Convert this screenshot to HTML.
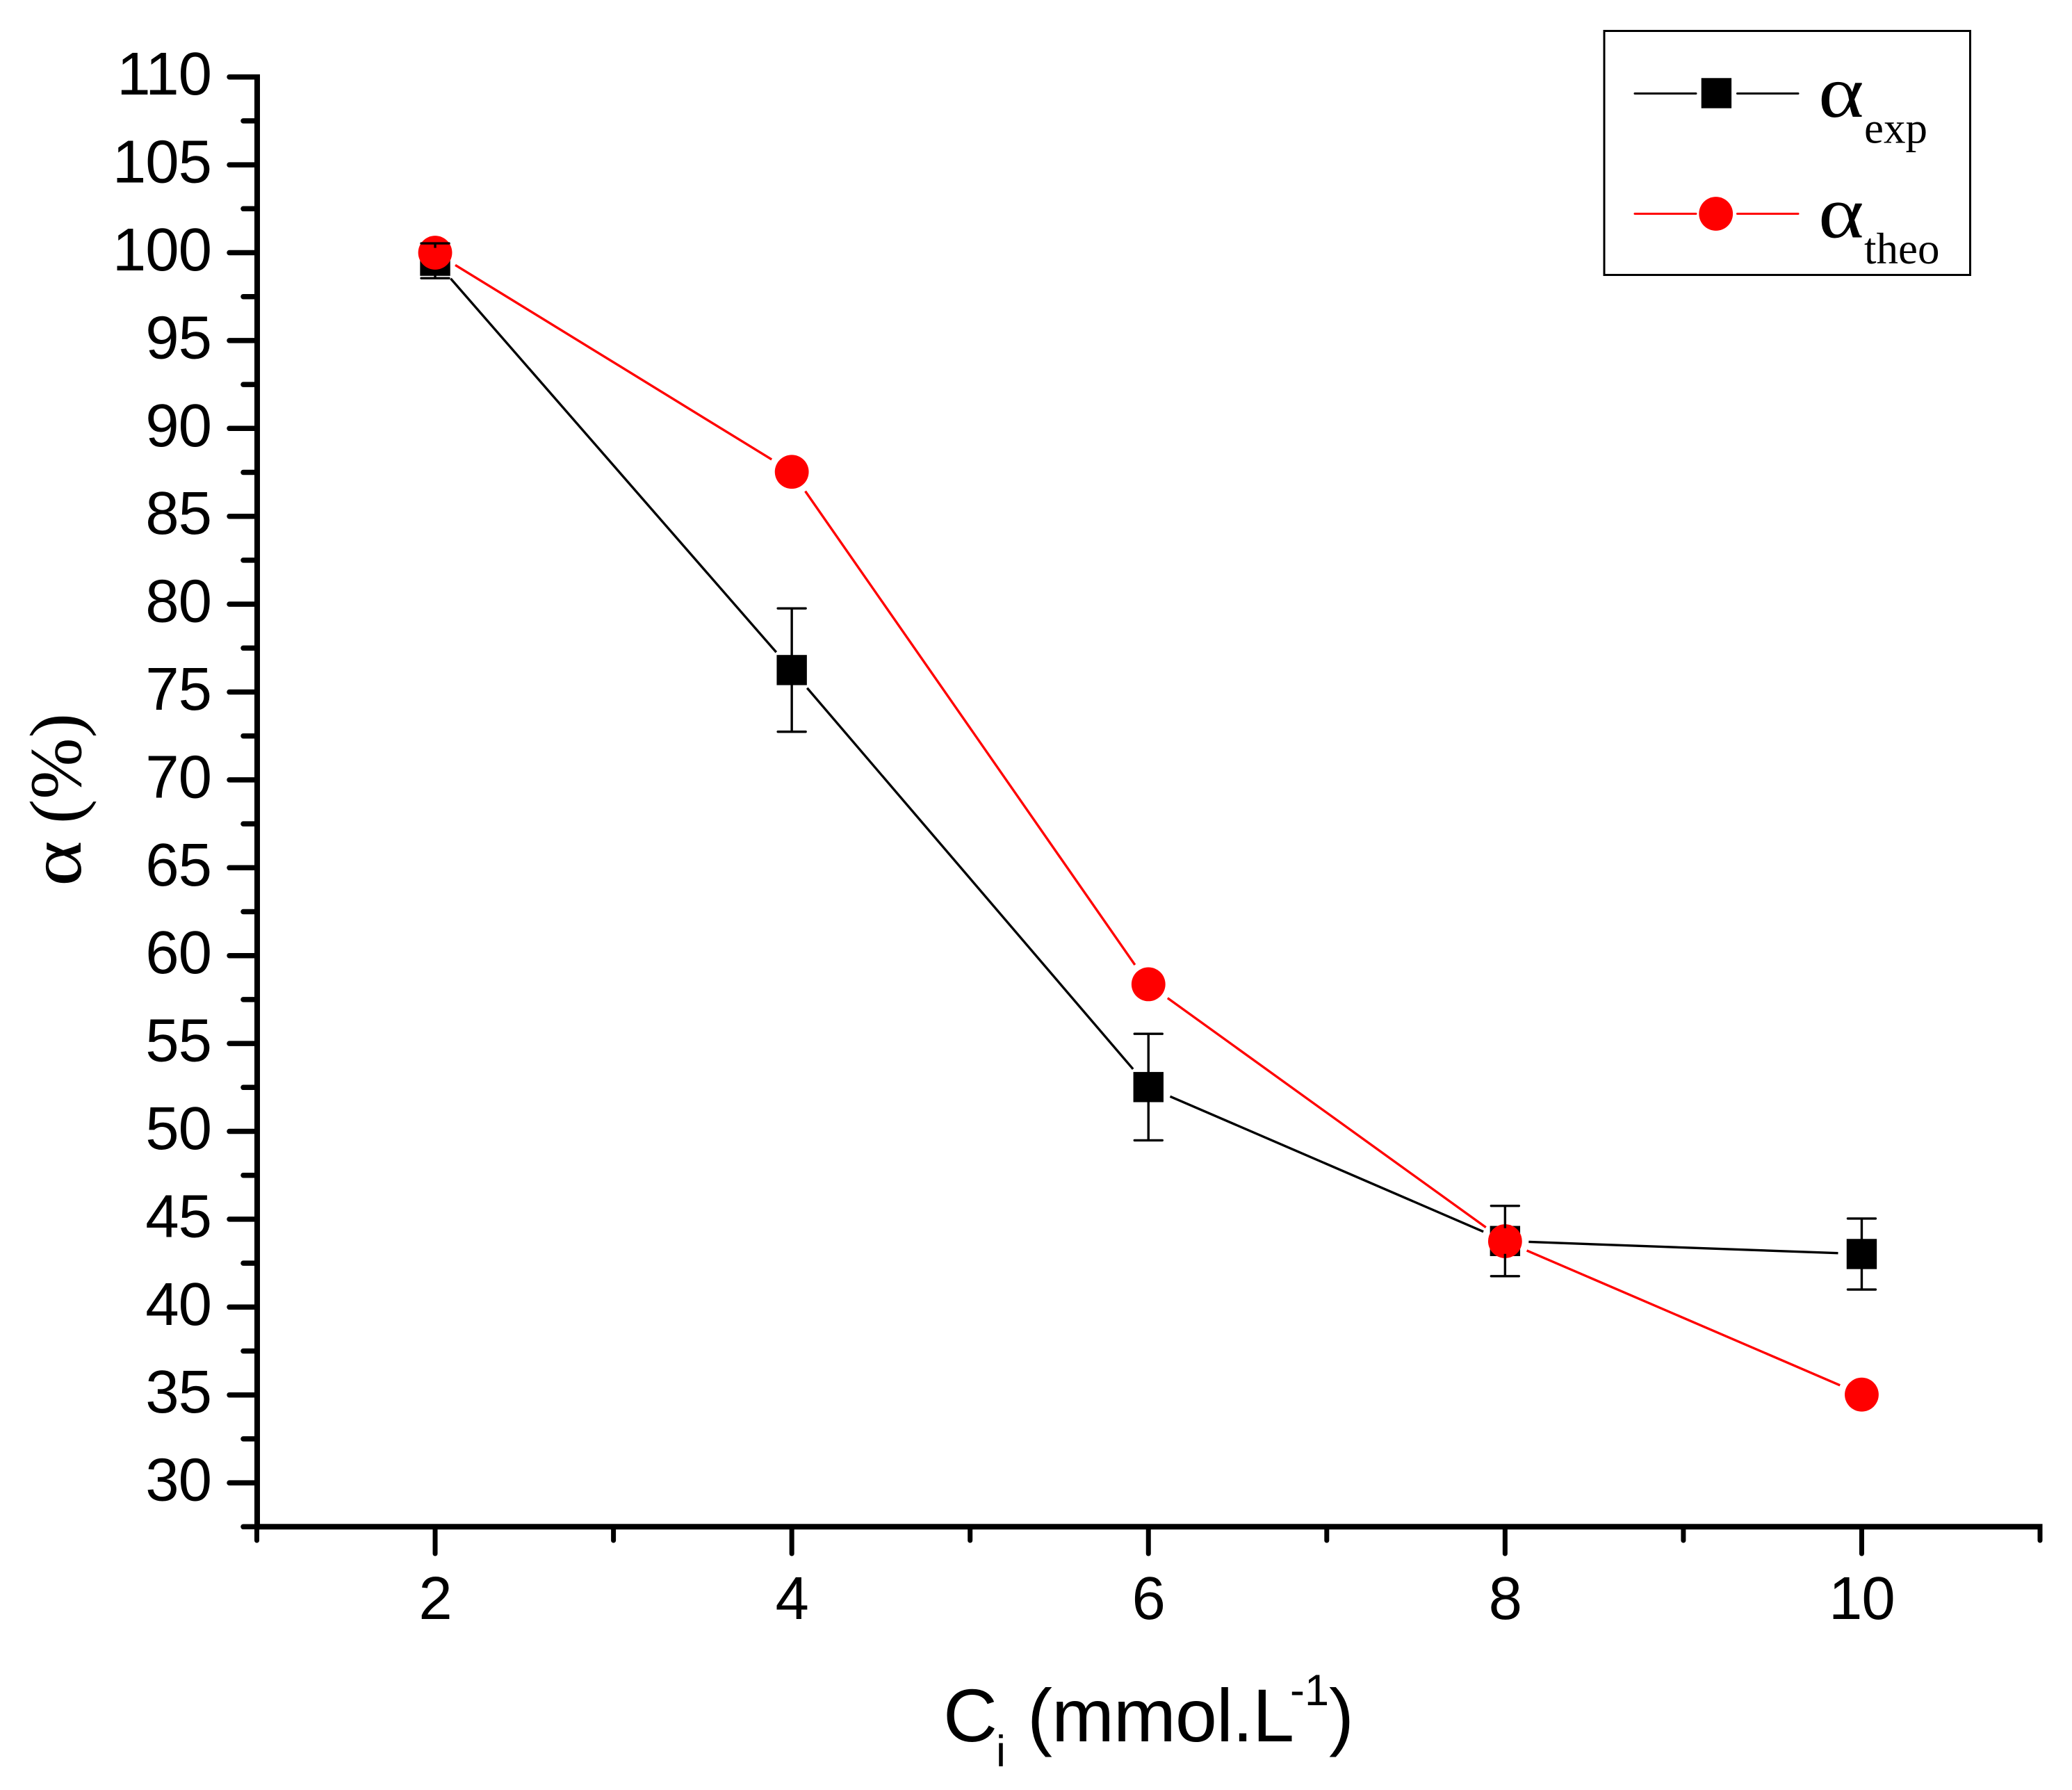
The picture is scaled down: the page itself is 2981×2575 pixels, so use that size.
<!DOCTYPE html>
<html lang="en">
<head>
<meta charset="utf-8">
<title>Alpha versus initial concentration</title>
<style>
html,body{margin:0;padding:0;background:#fff;width:2981px;height:2575px;overflow:hidden}
svg{display:block}
.sans{font-family:"Liberation Sans",Arial,sans-serif;fill:#000}
.serif{font-family:"Liberation Serif","Times New Roman",serif;fill:#000}
</style>
</head>
<body>
<svg id="chart" xmlns="http://www.w3.org/2000/svg" width="2981" height="2575" viewBox="0 0 2981 2575">
  <rect x="0" y="0" width="2981" height="2575" fill="#fff"/>
  <g id="axes"></g>
  <g id="series"></g>

  <g transform="translate(116 1273) rotate(-90)">
    <text class="serif" transform="translate(-2 0) scale(1.18 1)" font-size="106">α</text>
    <text class="serif" x="88" y="0" font-size="106">(%)</text>
  </g>

  <g>
    <text class="sans" x="1357" y="2505" font-size="108">C</text>
    <text class="sans" x="1433" y="2541" font-size="63">i</text>
    <text class="sans" x="1478" y="2505" font-size="108" letter-spacing="-1">(mmol.L</text>
    <text class="sans" x="1856" y="2453" font-size="63">-1</text>
    <text class="sans" x="1912" y="2505" font-size="108">)</text>
  </g>

  <g>
    <rect x="2308" y="44.5" width="526.5" height="351" fill="#fff" stroke="#000" stroke-width="3"/>
    <g>
      <line x1="2352" y1="134.5" x2="2440" y2="134.5" stroke="#000" stroke-width="3" stroke-linecap="round"/>
      <line x1="2499.5" y1="134.5" x2="2587" y2="134.5" stroke="#000" stroke-width="3" stroke-linecap="round"/>
      <rect x="2447.7" y="112.3" width="43.4" height="43.4" fill="#000"/>
      <text class="serif" transform="translate(2616 168) scale(1.18 1)" font-size="106">α</text>
      <text class="serif" x="2682" y="205.5" font-size="63">exp</text>
    </g>
    <g>
      <line x1="2352" y1="307.5" x2="2440" y2="307.5" stroke="#f00" stroke-width="3" stroke-linecap="round"/>
      <line x1="2499.5" y1="307.5" x2="2587" y2="307.5" stroke="#f00" stroke-width="3" stroke-linecap="round"/>
      <circle cx="2468.7" cy="307.5" r="24.4" fill="#f00"/>
      <text class="serif" transform="translate(2616 341.5) scale(1.18 1)" font-size="106">α</text>
      <text class="serif" x="2682" y="379" font-size="63">theo</text>
    </g>
  </g>
</svg>

<script>
const categories = [2, 4, 6, 8, 10];
const expValues = [99.54, 76.25, 52.52, 43.76, 43.02];
const expErrors = [0.99, 3.51, 3.03, 2.0, 2.02];
const theoValues = [100.0, 87.53, 58.37, 43.75, 35.02];
const xTickValues = [1, 2, 3, 4, 5, 6, 7, 8, 9, 10, 11];
const xTickLabels = ["", "2", "", "4", "", "6", "", "8", "", "10", ""];
const yTickValues = [27.5, 30, 32.5, 35, 37.5, 40, 42.5, 45, 47.5, 50, 52.5, 55, 57.5, 60, 62.5, 65, 67.5, 70, 72.5, 75, 77.5, 80, 82.5, 85, 87.5, 90, 92.5, 95, 97.5, 100, 102.5, 105, 107.5, 110];
const yTickLabels = ["", "30", "", "35", "", "40", "", "45", "", "50", "", "55", "", "60", "", "65", "", "70", "", "75", "", "80", "", "85", "", "90", "", "95", "", "100", "", "105", "", "110"];

const SVGNS = "http://www.w3.org/2000/svg";
const xScale = function (v) { return 369.5 + (v - 1) * 256.55; };
const yScale = function (v) { return 110.7 + (110 - v) * 25.28; };
const axesGroup = document.getElementById("axes");
const seriesGroup = document.getElementById("series");

function make(tag, parent, attrs) {
  const el = document.createElementNS(SVGNS, tag);
  Object.keys(attrs).forEach(function (k) { el.setAttribute(k, attrs[k]); });
  parent.appendChild(el);
  return el;
}

// y axis
const yAxisLine = make("line", axesGroup, { x1: 370, y1: yScale(110) - 3.7, x2: 370, y2: yScale(27.5) + 4, stroke: "#000", "stroke-width": 8 });


yTickValues.forEach(function (v, i) {
  const isMajor = yTickLabels[i] !== "";
  const tick = make("line", axesGroup, { x1: isMajor ? 330 : 350, y1: yScale(v), x2: 370, y2: yScale(v), stroke: "#000", "stroke-width": 7.5, "stroke-linecap": "round" });
  
  
  if (isMajor) {
    const label = make("text", axesGroup, { x: 304, y: yScale(v) + 25.5, "text-anchor": "end", "font-size": 87, "letter-spacing": -1, class: "sans" });
    
    
    label.textContent = yTickLabels[i];
  }
});

// x axis
const xAxisLine = make("line", axesGroup, { x1: 366, y1: yScale(27.5), x2: xScale(11) + 3.5, y2: yScale(27.5), stroke: "#000", "stroke-width": 8 });


xTickValues.forEach(function (v, i) {
  const isMajor = xTickLabels[i] !== "";
  const tick = make("line", axesGroup, { x1: xScale(v), y1: yScale(27.5), x2: xScale(v), y2: isMajor ? 2235 : 2216, stroke: "#000", "stroke-width": 7, "stroke-linecap": "round" });
  
  
  if (isMajor) {
    const label = make("text", axesGroup, { x: xScale(v), y: 2329, "text-anchor": "middle", "font-size": 87, "letter-spacing": -1, class: "sans" });
    
    
    label.textContent = xTickLabels[i];
  }
});

// connecting lines with a gap around each marker
function drawSegments(values, color, name) {
  const gap = 34;
  for (let i = 0; i < values.length - 1; i++) {
    const x0 = xScale(categories[i]), y0 = yScale(values[i]);
    const x1 = xScale(categories[i + 1]), y1 = yScale(values[i + 1]);
    const len = Math.hypot(x1 - x0, y1 - y0);
    const ux = (x1 - x0) / len, uy = (y1 - y0) / len;
    const seg = make("line", seriesGroup, { x1: x0 + ux * gap, y1: y0 + uy * gap, x2: x1 - ux * gap, y2: y1 - uy * gap, stroke: color, "stroke-width": 3.4 });
    
    
  }
}
drawSegments(expValues, "#000", "exp-line-segment");
drawSegments(theoValues, "#f00", "theo-line-segment");

// markers
categories.forEach(function (c, i) {
  const sq = make("rect", seriesGroup, { x: xScale(c) - 21.7, y: yScale(expValues[i]) - 21.7, width: 43.4, height: 43.4, fill: "#000" });
  
  
});
categories.forEach(function (c, i) {
  const dot = make("circle", seriesGroup, { cx: xScale(c), cy: yScale(theoValues[i]), r: 24.4, fill: "#f00" });
  
  
});

// error bars, stopping just inside the square marker
categories.forEach(function (c, i) {
  const x = xScale(c);
  const top = yScale(expValues[i] + expErrors[i]);
  const bottom = yScale(expValues[i] - expErrors[i]);
  const centre = yScale(expValues[i]);
  [[top, centre - 18.5], [bottom, centre + 18.5]].forEach(function (pair) {
    const stem = make("line", seriesGroup, { x1: x, y1: pair[0], x2: x, y2: pair[1], stroke: "#000", "stroke-width": 3.4 });
    
    
    const cap = make("line", seriesGroup, { x1: x - 20, y1: pair[0], x2: x + 20, y2: pair[0], stroke: "#000", "stroke-width": 3.4, "stroke-linecap": "round" });
    
    
  });
});
</script>
</body>
</html>
